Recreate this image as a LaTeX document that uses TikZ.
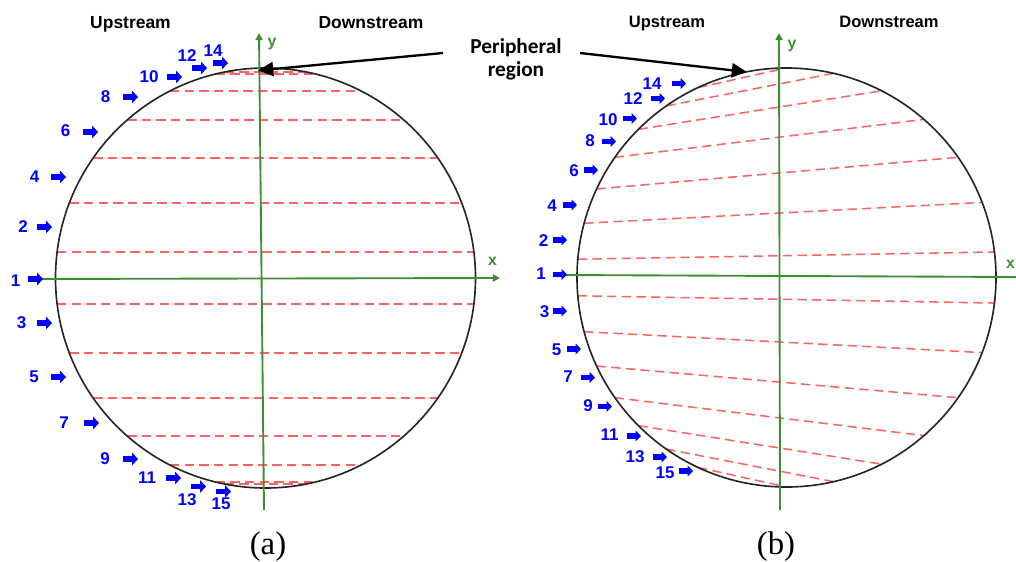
\documentclass[tikz,border=0pt]{standalone}
\usepackage{fontspec}
\setmainfont{Liberation Sans}
\newfontfamily\calfont{Carlito}
\newfontfamily\capfont{Liberation Serif}
\usepackage{xcolor}
\usepackage{tikz}
\usetikzlibrary{arrows.meta, calc}

\definecolor{axisgreen}{RGB}{62,142,52}
\definecolor{chordred}{RGB}{252,100,100}

\begin{document}
\begin{tikzpicture}[x=0.03cm, y=-0.03cm,
  rim/.style={draw=black!85, line width=1.4pt},
  axis/.style={draw=axisgreen, line width=1.6pt},
  axistip/.style={-{Triangle[length=6pt, width=6pt]}},
  chord/.style={draw=chordred, line width=1.3pt, dash pattern=on 8pt off 4.5pt},
  flatchord/.style={chord, line width=1.75pt},
  inlet/.style={draw=blue, line width=5pt, -{Triangle[length=5pt, width=10.5pt]}},
  inletb/.style={draw=blue, line width=4.3pt, -{Triangle[length=4.6pt, width=9pt]}},
  num/.style={text=blue, font=\bfseries\fontsize{14.5}{14}\selectfont, inner sep=0pt},
  side/.style={font=\bfseries\fontsize{14.9}{15}\selectfont, inner sep=0pt, anchor=base},
  sideb/.style={font=\bfseries\fontsize{14.1}{15}\selectfont, inner sep=0pt, anchor=base},
  axlabel/.style={text=axisgreen, font=\bfseries\fontsize{13.5}{14}\selectfont, inner sep=0pt, anchor=base},
  peri/.style={font=\calfont\bfseries\fontsize{18.2}{19.5}\selectfont, align=center, inner sep=0pt},
  pointer/.style={draw=black, line width=2pt, -{Triangle[length=13pt, width=12pt]}},
  caption/.style={font=\capfont\fontsize{28}{30}\selectfont, inner sep=0pt}
]
  \useasboundingbox (0,0) rectangle (1016,561);

  % (a) parallel chords
  \coordinate (ca) at (265.5,278);
  \foreach \a in {7,21,35,49,63,76,79} {
    \pgfmathsetmacro{\dy}{round(210*sin(\a))}
    \pgfmathsetmacro{\dx}{210*sqrt(1-(\dy/210)^2)}
    \draw[flatchord] ($(ca)+(-\dx,-\dy)$) -- ($(ca)+(\dx,-\dy)$);
    \draw[flatchord] ($(ca)+(-\dx,\dy)$) -- ($(ca)+(\dx,\dy)$);
  }
  \draw[rim] (ca) circle[radius=210];

  \coordinate (xa0) at (30,279);
  \coordinate (xa1) at (500,278);
  \coordinate (ya0) at (264,510);
  \coordinate (ya1) at (259,33);
  \draw[axis, axistip] (xa0) -- (xa1);
  \draw[axis, axistip] (ya0) -- (ya1);
  \node[axlabel] (xlabela) at (492.5,265) {x};
  \node[axlabel] (ylabela) at (272,46) {y};

  \foreach \n/\tx/\ty/\xa/\ya in {1/15.5/280.5/28/279, 2/23/226.5/37/227, 3/21.5/323/37/323,
      4/34.5/176.5/51/177, 5/34/377/51/377, 6/65.5/130.5/83/132, 7/64/423/84/423,
      8/105.5/96.5/123/97, 9/105/458.5/123/459, 10/149/76.5/167/77, 11/147/478/166/478,
      12/187/56/192/68, 13/187/499.5/191/486.5, 14/213/50.5/213/63, 15/221/504/216/491.5} {
    \node[num] (na\n) at (\tx,\ty) {\n};
    \draw[inlet] (\xa,\ya) -- ++(15,0);
  }

  \node[side] (upa) at (130.5,28.3) {Upstream};
  \node[side] (downa) at (371,28.3) {Downstream};

  % (b) slanted chords
  \coordinate (cb) at (786.5,277.5);
  \foreach \k in {0,...,6} {
    \pgfmathsetmacro{\l}{5+10*\k}
    \pgfmathsetmacro{\r}{min(7+14*\k,90)}
    \draw[chord] ($(cb)+(180+\l:209.5)$) -- ($(cb)+(-\r:209.5)$);
    \draw[chord] ($(cb)+(180-\l:209.5)$) -- ($(cb)+(\r:209.5)$);
  }
  \draw[rim] (cb) circle[radius=209.5];

  \coordinate (xb0) at (562,275);
  \coordinate (xb1) at (1016,277);
  \coordinate (yb0) at (780,510);
  \coordinate (yb1) at (779,33);
  \draw[axis] (xb0) -- (xb1);
  \draw[axis, axistip] (yb0) -- (yb1);
  \node[axlabel] (xlabelb) at (1010.5,268) {x};
  \node[axlabel] (ylabelb) at (792,48) {y};

  \foreach \n/\tx/\ty/\xa/\ya in {1/541/274/553/274.5, 2/543.5/240.5/553/240, 3/544.5/311.5/553/311,
      4/552/205.5/563/205, 5/556.5/349.5/567/349, 6/574/171/584/170, 7/568/376.5/581/377.5,
      8/590/141/602/141.5, 9/588/405.5/598/406.5, 10/608/119.5/623/118.5, 11/609.5/435/627/436,
      12/633/99/651/98.5, 13/635/457/653/457, 14/652/83.5/672/83.5, 15/665/472.5/679/471} {
    \node[num] (nb\n) at (\tx,\ty) {\n};
    \draw[inletb] (\xa,\ya) -- ++(14,0);
  }

  \node[sideb] (upb) at (667,27) {Upstream};
  \node[sideb] (downb) at (889,27) {Downstream};

  % peripheral region callout
  \node[peri] (perilabel) at (516,59) {Peripheral\\region};
  \coordinate (pl) at (443,53);
  \coordinate (pr) at (580,53);
  \coordinate (tipa) at (258,70.5);
  \coordinate (tipb) at (747,72);
  \draw[pointer] (pl) -- (tipa);
  \draw[pointer] (pr) -- (tipb);

  \node[caption] (capa) at (268,547) {(a)};
  \node[caption] (capb) at (776,547) {(b)};
\end{tikzpicture}
\end{document}
